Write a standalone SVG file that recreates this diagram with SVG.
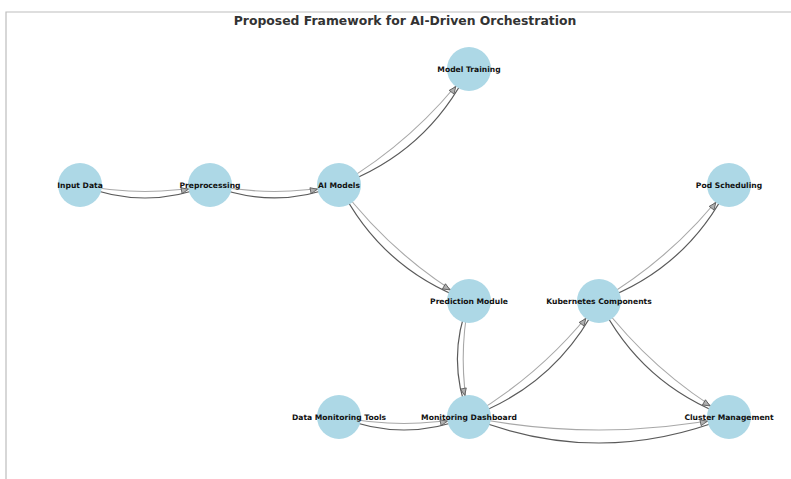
<svg xmlns="http://www.w3.org/2000/svg" xmlns:xlink="http://www.w3.org/1999/xlink" width="791" height="479" viewBox="0 0 791 479">
  <style>
    .frame { fill: none; stroke: #bdbdbd; stroke-width: 1.2; }
    .title { font-family: "DejaVu Sans", "Liberation Sans", sans-serif; font-weight: bold; font-size: 12.4px; fill: #333333; text-anchor: middle; }
    .node circle { fill: #add8e6; }
    .node text { font-family: "DejaVu Sans", "Liberation Sans", sans-serif; font-weight: bold; font-size: 7.6px; fill: #111111; text-anchor: middle; }
    .e-light { fill: none; stroke: #a8a8a8; stroke-width: 1.1; }
    .e-dark { fill: none; stroke: #5a5a5a; stroke-width: 1.2; }
    .head { fill: #b0b0b0; stroke: #555555; stroke-width: 0.8; stroke-linejoin: miter; }
  </style>
  <defs>
    <path id="ah" d="M0,0 L-7,-3 L-7,3 Z"/>
  </defs>

  <rect width="791" height="479" fill="#ffffff"/>
  <path class="frame" d="M6,479 V12 H791"/>
  <text class="title" x="405" y="25">Proposed Framework for AI-Driven Orchestration</text>

  <!-- connectors: each edge is a pair of arcs (rad 0.1 / 0.2) from centre to centre, nodes drawn on top -->
  <g id="edges">
    <path class="e-light" d="M80,185 Q145,198 210,185"/>
    <path class="e-dark" d="M80,185 Q145,211 210,185"/>

    <path class="e-light" d="M210,185 Q274.5,197.9 339,185"/>
    <path class="e-dark" d="M210,185 Q274.5,210.8 339,185"/>

    <path class="e-light" d="M339,185 Q415.6,140 469,69"/>
    <path class="e-dark" d="M339,185 Q427.2,153 469,69"/>

    <path class="e-light" d="M339,185 Q392.4,256 469,301"/>
    <path class="e-dark" d="M339,185 Q380.8,269 469,301"/>

    <path class="e-light" d="M469,301 Q457.4,359 469,417"/>
    <path class="e-dark" d="M469,301 Q445.8,359 469,417"/>

    <path class="e-light" d="M469,417 Q545.6,372 599,301"/>
    <path class="e-dark" d="M469,417 Q557.2,385 599,301"/>

    <path class="e-light" d="M599,301 Q675.6,256 729,185"/>
    <path class="e-dark" d="M599,301 Q687.2,269 729,185"/>

    <path class="e-light" d="M599,301 Q652.4,372 729,417"/>
    <path class="e-dark" d="M599,301 Q640.8,385 729,417"/>

    <path class="e-light" d="M339,417 Q404,430 469,417"/>
    <path class="e-dark" d="M339,417 Q404,443 469,417"/>

    <path class="e-light" d="M469,417 Q599,443 729,417"/>
    <path class="e-dark" d="M469,417 Q599,469 729,417"/>
  </g>

  <g id="n-input" class="node"><circle cx="80" cy="185" r="22"/><text x="80" y="187.7">Input Data</text></g>
  <g id="n-preprocessing" class="node"><circle cx="210" cy="185" r="22"/><text x="210" y="187.7">Preprocessing</text></g>
  <g id="n-ai-models" class="node"><circle cx="339" cy="185" r="22"/><text x="339" y="187.7">AI Models</text></g>
  <g id="n-model-training" class="node"><circle cx="469" cy="69" r="22"/><text x="469" y="71.7">Model Training</text></g>
  <g id="n-prediction" class="node"><circle cx="469" cy="301" r="22"/><text x="469" y="303.7">Prediction Module</text></g>
  <g id="n-pod-scheduling" class="node"><circle cx="729" cy="185" r="22"/><text x="729" y="187.7">Pod Scheduling</text></g>
  <g id="n-kubernetes" class="node"><circle cx="599" cy="301" r="22"/><text x="599" y="303.7">Kubernetes Components</text></g>
  <g id="n-data-monitoring" class="node"><circle cx="339" cy="417" r="22"/><text x="339" y="419.7">Data Monitoring Tools</text></g>
  <g id="n-dashboard" class="node"><circle cx="469" cy="417" r="22"/><text x="469" y="419.7">Monitoring Dashboard</text></g>
  <g id="n-cluster" class="node"><circle cx="729" cy="417" r="22"/><text x="729" y="419.7">Cluster Management</text></g>

  <!-- arrowheads where each edge meets its target -->
  <g id="arrowheads">
    <use xlink:href="#ah" class="head" transform="translate(188.4,189.3) rotate(-11.3)"/>
    <use xlink:href="#ah" class="head" transform="translate(317.4,189.3) rotate(-11.3)"/>
    <use xlink:href="#ah" class="head" transform="translate(455.8,86.6) rotate(-53.1)"/>
    <use xlink:href="#ah" class="head" transform="translate(450,289.9) rotate(30.4)"/>
    <use xlink:href="#ah" class="head" transform="translate(464.7,395.4) rotate(78.7)"/>
    <use xlink:href="#ah" class="head" transform="translate(585.8,318.6) rotate(-53.1)"/>
    <use xlink:href="#ah" class="head" transform="translate(715.8,202.6) rotate(-53.1)"/>
    <use xlink:href="#ah" class="head" transform="translate(710,405.9) rotate(30.4)"/>
    <use xlink:href="#ah" class="head" transform="translate(447.4,421.3) rotate(-11.3)"/>
    <use xlink:href="#ah" class="head" transform="translate(707.4,421.3) rotate(-11.3)"/>
  </g>
</svg>
